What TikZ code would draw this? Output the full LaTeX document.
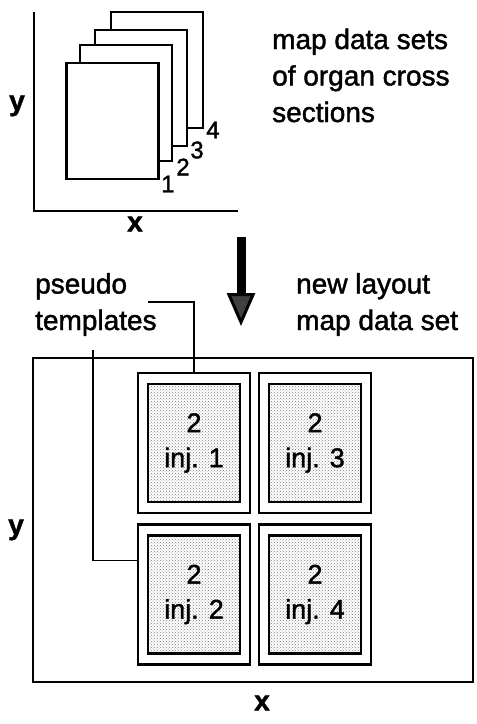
\documentclass[tikz,border=0pt]{standalone}
\usepackage{fontspec}
\setmainfont{Liberation Sans}[FakeBold=1.5]
\usetikzlibrary{arrows.meta,patterns}

\begin{document}
\begin{tikzpicture}[x=1pt, y=-1pt,
    sheet/.style={draw, line width=2.2pt, fill=white, minimum width=92pt, minimum height=116pt, inner sep=0pt},
    tileout/.style={draw, line width=2.2pt, fill=white, minimum width=112pt, minimum height=140pt, inner sep=0pt},
    tilein/.style={draw, line width=2.8pt, pattern=crosshatch dots, pattern color=black!50,
        minimum width=92pt, minimum height=118pt, align=center, inner sep=0pt,
        font=\fontsize{27}{35}\selectfont},
    lbl/.style={font=\fontsize{28}{36.5}\selectfont, align=left, inner sep=0pt},
    axlbl/.style={font=\fontsize{28}{30}\selectfont\bfseries, inner sep=0pt},
    leader/.style={line width=1.5pt}]
    \useasboundingbox (0,0) rectangle (477,724);

    % map data sets (top)
    \draw[line width=2.5pt] (34,12) -- (34,211) -- (238,211);
    \node[axlbl] (ytop) at (17,106) {y};
    \node[axlbl] (xtop) at (135,224) {x};
    \foreach \i/\cx/\cy/\lx/\ly in {4/157/70/213/130, 3/141/88/197/150, 2/126/103/183/167, 1/112.5/121/168/184} {
        \node[sheet] (s\i) at (\cx,\cy) {};
        \node[font=\fontsize{24}{26}\selectfont, inner sep=0pt] (n\i) at (\lx,\ly) {\i};
    }
    \node[lbl, anchor=base west] (maptxt) at (272,122) {map data sets\\of organ cross\\sections};

    % arrow
    \coordinate (arT) at (241,237);
    \coordinate (arB) at (241,326);
    \draw[line width=9pt, -{Triangle[length=33pt, width=28pt, fill=black!75, line width=3pt]}] (arT) -- (arB);

    \node[lbl, anchor=base west] (pseudo) at (35,330) {pseudo\\templates};
    \node[lbl, anchor=base west] (newlay) at (296,330) {new layout\\map data set};

    % new layout (bottom)
    \draw[line width=2.5pt] (33,358) rectangle (473,682);
    \node[axlbl] (ybot) at (16,530) {y};
    \node[axlbl] (xbot) at (262,703) {x};
    \foreach \k/\cx/\cy in {1/194/443, 3/315/443, 2/194/594.5, 4/315/594.5} {
        \node[tileout] (t\k) at (\cx,\cy) {};
        \node[tilein] (p\k) at (\cx,\cy) {2\\inj. \k};
    }

    % leaders
    \coordinate (l1) at (148,302);
    \coordinate (l2) at (93,350);
    \draw[leader] (l1) -| (t1.north);
    \draw[leader] (l2) |- ([yshift=34pt]t2.west);
\end{tikzpicture}
\end{document}
